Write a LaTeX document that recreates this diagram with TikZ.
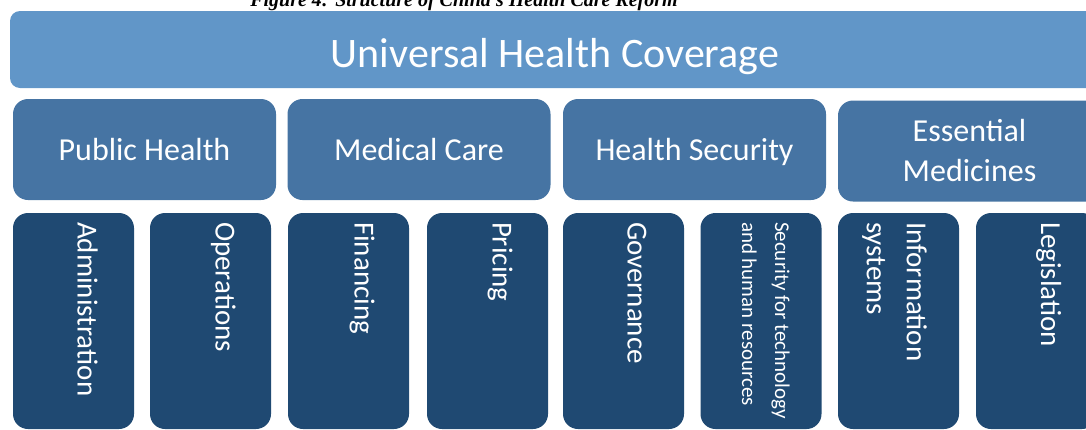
\documentclass[tikz,border=0pt]{standalone}
\usepackage{fontspec}
\setmainfont{Carlito}
\newfontfamily\capfont{Liberation Serif}

\definecolor{coverblue}{RGB}{97,150,200}
\definecolor{pillarblue}{RGB}{70,116,163}
\definecolor{itemblue}{RGB}{31,73,114}

\tikzset{
    cover/.style={fill=coverblue, rounded corners=10pt, minimum width=1090pt,
        minimum height=77pt, inner sep=0pt, text=white,
        font=\fontsize{42}{50}\selectfont, text height=38pt, text depth=3pt},
    pillar/.style={fill=pillarblue, rounded corners=15pt, minimum width=263pt,
        minimum height=101pt, inner sep=0pt, text=white, align=center,
        font=\fontsize{32}{40}\selectfont},
    oneline/.style={text height=23pt, text depth=2pt},
    item/.style={fill=itemblue, rounded corners=15pt, minimum width=121pt,
        minimum height=216pt, inner sep=0pt},
    itemtext/.style={text=white, rotate=-90, inner sep=0pt, align=left,
        font=\fontsize{29}{40}\selectfont},
    caption/.style={font=\capfont\bfseries\itshape\fontsize{20}{24}\selectfont,
        anchor=base, inner sep=0pt}
}

\begin{document}
\begin{tikzpicture}[x=1pt, y=-1pt]
    \useasboundingbox (0,0) rectangle (1086,429);
    \clip (0,0) rectangle (1086,429);

    % title line, cut by the top edge
    \node[caption] (cap) at (464,6) {Figure 4: Structure of China’s Health Care Reform};

    % top level
    \node[cover] (uhc) at (555,49.5) {Universal Health Coverage};

    % four pillars
    \node[pillar, oneline] (ph) at (144.5,149.5) {Public Health};
    \node[pillar, oneline] (mc) at (419,149.5) {Medical Care};
    \node[pillar, oneline] (hs) at (694.5,149.5) {Health Security};
    \node[pillar] (em) at (969.5,151) {Essential\\Medicines};

    % supporting systems
    \node[item] (adm) at (73.5,321) {};
    \node[item] (ops) at (210.5,321) {};
    \node[item] (fin) at (348.5,321) {};
    \node[item] (pri) at (487.5,321) {};
    \node[item] (gov) at (623.5,321) {};
    \node[item] (sec) at (761,321) {};
    \node[item] (inf) at (898.5,321) {};
    \node[item] (leg) at (1036.5,321) {};

    \node[itemtext, anchor=base west] (adm-t) at ([xshift=4pt, yshift=-9pt]adm.north) {Administration};
    \node[itemtext, anchor=base west] (ops-t) at ([xshift=5pt, yshift=-9pt]ops.north) {Operations};
    \node[itemtext, anchor=base west] (fin-t) at ([xshift=6pt, yshift=-9pt]fin.north) {Financing};
    \node[itemtext, anchor=base west] (pri-t) at ([xshift=5pt, yshift=-9pt]pri.north) {Pricing};
    \node[itemtext, anchor=base west] (gov-t) at ([xshift=4pt, yshift=-9pt]gov.north) {Governance};
    \node[itemtext, anchor=north west, font=\fontsize{21}{33}\selectfont] (sec-t)
        at ([xshift=29pt, yshift=-9pt]sec.north) {Security for technology\\and human resources};
    \node[itemtext, anchor=north west] (inf-t) at ([xshift=28.5pt, yshift=-9pt]inf.north) {Information\\systems};
    \node[itemtext, anchor=base west] (leg-t) at ([xshift=4.5pt, yshift=-9pt]leg.north) {Legislation};
\end{tikzpicture}
\end{document}
